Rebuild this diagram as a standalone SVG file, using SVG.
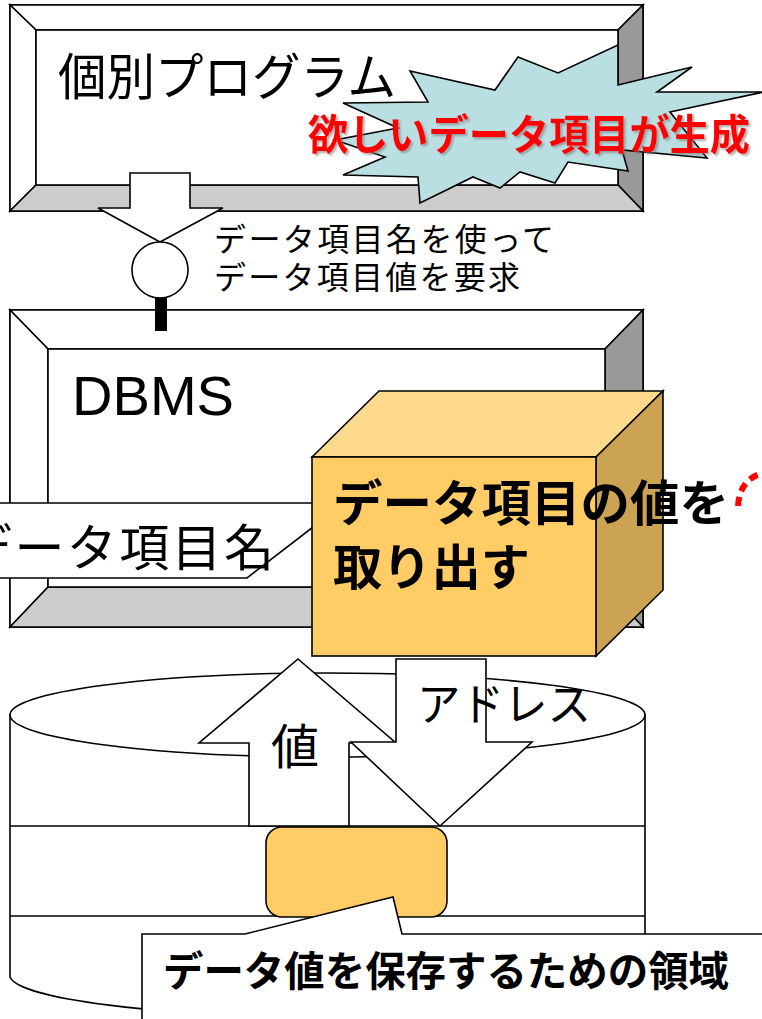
<svg xmlns="http://www.w3.org/2000/svg" width="762" height="1019" viewBox="0 0 762 1019">
  <style>
    .ln { stroke: #000; stroke-width: 1.6; stroke-linejoin: miter; }
    .wh { fill: #fff; }
    .lt { fill: #ccc; }
    .dk { fill: #999; }
    .jp { font-family: "Noto Sans CJK JP", "Noto Sans", sans-serif; fill: #000; }
    .bd { font-weight: bold; }
    .red { fill: #f00; }
    .en { font-family: "Liberation Sans", Arial, sans-serif; fill: #000; }
  </style>
  <defs>
    <filter id="shadow" x="-5%" y="-20%" width="110%" height="150%">
      <feDropShadow dx="2" dy="2" stdDeviation="1" flood-color="#777" flood-opacity="0.6"/>
    </filter>
  </defs>

  <!-- program frame (bevelled) -->
  <g id="program">
    <rect class="ln wh" x="10" y="5" width="633" height="206"/>
    <polygon class="ln wh" points="10,5 643,5 618,30 36,30"/>
    <polygon class="ln wh" points="10,5 36,30 36,185 10,211"/>
    <polygon class="ln dk" points="643,5 643,211 618,185 618,30"/>
    <polygon class="ln lt" points="10,211 36,185 618,185 643,211"/>
    <rect class="ln wh" x="36" y="30" width="582" height="155"/>
    <text class="jp" x="58" y="95" font-size="50" textLength="338" lengthAdjust="spacingAndGlyphs">個別プログラム</text>
  </g>

  <!-- DBMS frame (bevelled) -->
  <g id="dbms">
    <rect class="ln wh" x="10" y="310" width="633" height="317"/>
    <polygon class="ln wh" points="10,310 643,310 605,349 48,349"/>
    <polygon class="ln wh" points="10,310 48,349 48,587 10,627"/>
    <polygon class="ln dk" points="643,310 643,627 605,587 605,349"/>
    <polygon class="ln lt" points="10,627 48,587 605,587 643,627"/>
    <rect class="ln wh" x="48" y="349" width="557" height="238"/>
    <text class="en" x="72" y="415" font-size="56" textLength="162" lengthAdjust="spacingAndGlyphs">DBMS</text>
  </g>

  <!-- disk cylinder -->
  <g id="disk">
    <path class="ln wh" d="M10,715 L10,977 A318,42 0 0 0 645,977 L645,715 Z"/>
    <ellipse class="ln wh" cx="327.5" cy="715" rx="317.5" ry="42"/>
    <line class="ln" x1="10" y1="826" x2="645" y2="826"/>
    <line class="ln" x1="10" y1="916" x2="645" y2="916"/>
  </g>

  <!-- stored value slot -->
  <g id="slot">
    <rect class="ln" x="266" y="827" width="181" height="90" rx="16" ry="16" fill="#FFCC66"/>
  </g>

  <g id="connectors">
    <!-- request arrow with interface socket -->
    <polygon class="ln wh" points="130,173 190,173 190,208 223,208 160,242 98,208 130,208"/>
    <circle class="ln wh" cx="160" cy="270" r="28"/>
    <rect x="155" y="298" width="12" height="33" fill="#000"/>
    <!-- value back up -->
    <polygon class="ln wh" points="249,826 249,743 199,743 298,659 396,743 349,743 349,826"/>
    <!-- address down -->
    <polygon class="ln wh" points="396,659 486,659 486,742 532,742 440,826 351,742 396,742"/>
    <text class="jp" x="271" y="764" font-size="48">値</text>
    <text class="jp" x="417" y="721" font-size="45" textLength="174" lengthAdjust="spacingAndGlyphs">アドレス</text>
  </g>

  <g id="request-label">
    <text class="jp" x="214" y="251" font-size="32" textLength="340" lengthAdjust="spacing">データ項目名を使って</text>
    <text class="jp" x="214" y="289" font-size="32" textLength="306" lengthAdjust="spacing">データ項目値を要求</text>
  </g>

  <!-- item-name callout -->
  <g id="item-name">
    <polygon class="ln wh" points="-5,503 330,503 330,514 247,578 -5,578"/>
    <text class="jp" x="-38" y="566" font-size="50" textLength="312" lengthAdjust="spacing">データ項目名</text>
  </g>

  <!-- extract cube -->
  <g id="extract">
    <polygon class="ln" points="312,457 379,391 663,391 596,457" fill="#FFD98C"/>
    <polygon class="ln" points="596,457 663,391 663,590 596,656" fill="#CCA352"/>
    <rect class="ln" x="312" y="457" width="284" height="199" fill="#FFCC66"/>
    <text class="jp bd" x="333" y="521" font-size="49" textLength="396" lengthAdjust="spacingAndGlyphs">データ項目の値を</text>
    <text class="jp bd" x="333" y="585" font-size="49" textLength="197" lengthAdjust="spacingAndGlyphs">取り出す</text>
    <path d="M738,506 Q740,478 764,473" fill="none" stroke="#f00" stroke-width="6" stroke-dasharray="9 6"/>
  </g>

  <!-- storage area callout -->
  <g id="storage-area">
    <polygon class="ln wh" points="142,1025 142,934 245,934 393,897 402,934 770,934 770,1025"/>
    <text class="jp bd" x="163" y="986" font-size="41" textLength="566" lengthAdjust="spacingAndGlyphs">データ値を保存するための領域</text>
  </g>

  <!-- burst -->
  <g id="burst">
    <polygon class="ln" fill="#B9DFE3" points="410,71 495,90 518,57 558,73 618,45 618,85 692,67 657,92 764,92 670,112 707,158 622,150 628,171 568,162 555,183 520,172 500,188 473,177 420,203 418,177 343,175 385,157 335,140 398,128 343,103 428,102"/>
    <text class="jp bd red" x="308" y="150" font-size="42" filter="url(#shadow)" textLength="442" lengthAdjust="spacingAndGlyphs">欲しいデータ項目が生成</text>
  </g>
</svg>
